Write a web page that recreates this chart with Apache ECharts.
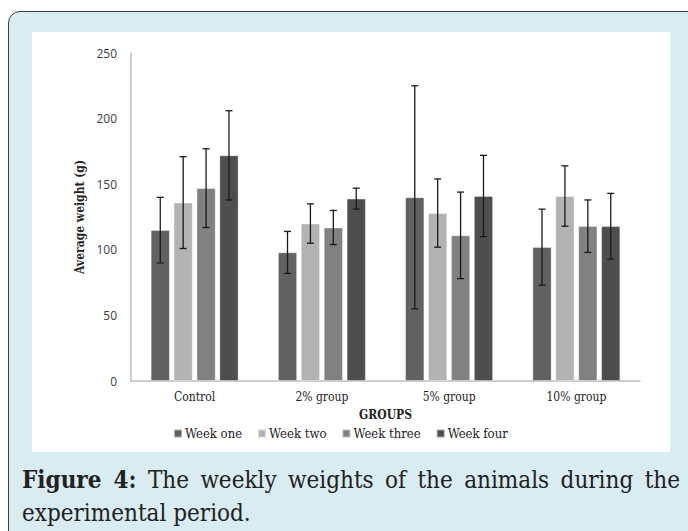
<!DOCTYPE html>
<html>
<head>
<meta charset="utf-8">
<script src="https://cdn.jsdelivr.net/npm/echarts@6/dist/echarts.min.js"></script>
<style>
html,body{margin:0;padding:0;background:#fff;}
#wrap{position:relative;width:688px;height:531px;overflow:hidden;background:#fff;}
#outer{position:absolute;left:8px;top:11px;width:720px;height:560px;background:#d9ecf2;border:1.5px solid #3c3c3c;border-radius:12px 12px 0 0;box-sizing:border-box;}
#panel{position:absolute;left:32px;top:32px;width:638px;height:420px;background:#fff;}
#chart{position:absolute;left:0;top:0;width:688px;height:531px;}
.cap{position:absolute;left:22px;width:658px;font-family:"DejaVu Serif Condensed","DejaVu Serif",serif;font-size:24px;line-height:30px;color:#222;white-space:nowrap;}
#cap1{top:465px;text-align:justify;text-align-last:justify;white-space:normal;}
#cap2{top:498px;}
</style>
</head>
<body>
<div id="wrap">
  <div id="outer"></div>
  <div id="panel"></div>
  <div id="chart"></div>
  <div class="cap" id="cap1"><b>Figure 4:</b> The weekly weights of the animals during the</div>
  <div class="cap" id="cap2">experimental period.</div>
</div>
<script>
var categories = ["Control", "2% group", "5% group", "10% group"];
var seriesNames = ["Week one", "Week two", "Week three", "Week four"];
var weekOne   = [115, 98, 140, 102];
var weekTwo   = [136, 120, 128, 141];
var weekThree = [147, 117, 111, 118];
var weekFour  = [172, 139, 141, 118];
var errOne    = [25, 16, 85, 29];
var errTwo    = [35, 15, 26, 23];
var errThree  = [30, 13, 33, 20];
var errFour   = [34, 8, 31, 25];
var yTicks = [0, 50, 100, 150, 200, 250];

var means = [weekOne, weekTwo, weekThree, weekFour];
var errs = [errOne, errTwo, errThree, errFour];
var colors = ["#616161", "#b3b3b3", "#818181", "#4e4e4e"];
var CAT_GAP = 0.31, BAR_GAP = 0.2;

var serifFont = '"DejaVu Serif Condensed","DejaVu Serif",serif';

function errRenderer(i) {
  return function (params, api) {
    var c = api.value(0), m = api.value(1), e = api.value(2);
    var band = api.size([1, 0])[0];
    var gw = band * (1 - CAT_GAP);
    var bw = gw / (4 + 3 * BAR_GAP);
    var off = -gw / 2 + bw / 2 + i * bw * (1 + BAR_GAP);
    var top = api.coord([c, m + e]);
    var bot = api.coord([c, m - e]);
    var x = top[0] + off;
    var cap = 3.5;
    var st = { stroke: "#1a1a1a", lineWidth: 1.3 };
    return {
      type: "group",
      children: [
        { type: "line", shape: { x1: x, y1: top[1], x2: x, y2: bot[1] }, style: st },
        { type: "line", shape: { x1: x - cap, y1: top[1], x2: x + cap, y2: top[1] }, style: st },
        { type: "line", shape: { x1: x - cap, y1: bot[1], x2: x + cap, y2: bot[1] }, style: st }
      ]
    };
  };
}

var series = [];
for (var i = 0; i < 4; i++) {
  series.push({
    name: seriesNames[i],
    type: "bar",
    data: means[i],
    barCategoryGap: (CAT_GAP * 100) + "%",
    barGap: (BAR_GAP * 100) + "%",
    itemStyle: { color: colors[i], borderColor: "rgba(255,255,255,0.5)", borderWidth: 0.8 },
    emphasis: { disabled: true }
  });
}
for (var j = 0; j < 4; j++) {
  var d = [];
  for (var k = 0; k < categories.length; k++) d.push([k, means[j][k], errs[j][k]]);
  series.push({
    type: "custom",
    renderItem: errRenderer(j),
    data: d,
    encode: { x: 0, y: 1 },
    z: 10,
    silent: true
  });
}

var chart = echarts.init(document.getElementById("chart"), null, { renderer: "svg" });
chart.setOption({
  animation: false,
  backgroundColor: "transparent",
  color: colors,
  grid: { left: 131, right: 48, top: 53, bottom: 150 },
  legend: {
    data: seriesNames,
    left: 168,
    top: 422,
    itemWidth: 8,
    itemHeight: 8,
    itemGap: 15,
    icon: "rect",
    textStyle: { fontFamily: serifFont, fontSize: 13, color: "#222", padding: [0, 0, 0, -2] }
  },
  xAxis: {
    type: "category",
    data: categories,
    name: "GROUPS",
    nameLocation: "middle",
    nameGap: 28,
    nameTextStyle: { fontFamily: serifFont, fontSize: 12, fontWeight: "bold", color: "#222" },
    axisLine: { lineStyle: { color: "#bfbfbf", width: 1.5 } },
    axisTick: { show: false },
    axisLabel: { fontFamily: serifFont, fontSize: 12, color: "#222", margin: 10 }
  },
  yAxis: {
    type: "value",
    min: yTicks[0],
    max: yTicks[yTicks.length - 1],
    interval: yTicks[1] - yTicks[0],
    name: "Average weight (g)",
    nameLocation: "middle",
    nameGap: 44,
    nameTextStyle: { fontFamily: serifFont, fontSize: 12, fontWeight: "bold", color: "#222" },
    axisLine: { show: true, lineStyle: { color: "#bfbfbf", width: 1.5 } },
    axisTick: { show: false },
    splitLine: { show: false },
    axisLabel: { fontFamily: '"Open Sans",sans-serif', fontSize: 12, color: "#404040", margin: 14 }
  },
  series: series
});
</script>
</body>
</html>
